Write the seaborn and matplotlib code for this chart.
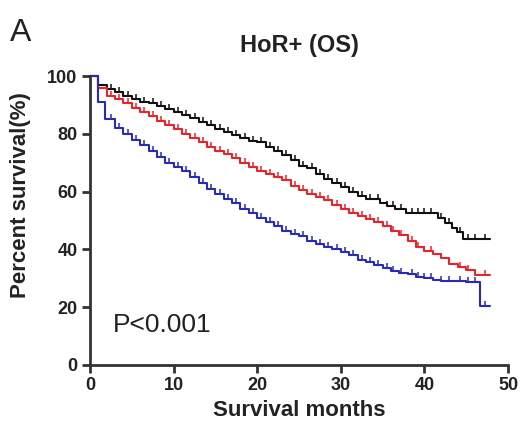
import numpy as np
import pandas as pd
import matplotlib
matplotlib.use("Agg")
import matplotlib.pyplot as plt
import seaborn as sns

# survival curves (months, percent survival)
black_t = [0, 1, 2, 3, 4, 5, 6, 7, 8, 9, 10, 11, 12, 13, 14, 15, 16, 17, 18, 19,
           20, 21, 22, 23, 24, 25, 26, 27, 28, 29, 30, 31, 32, 33, 34.7, 35.5,
           36.5, 37.8, 41.6, 42.5, 43.3, 43.9, 44.6, 47.8]
black_s = [100, 97, 95.5, 94.5, 93, 92, 91, 90.5, 89.5, 88.5, 87.5, 86.5, 85.5,
           84, 83, 81.5, 80.5, 79.5, 78.5, 77.5, 77, 75.5, 74, 72.5, 71, 69, 68,
           66, 64.5, 63, 61.5, 60, 58.5, 57.5, 56, 55, 54, 52.5, 51, 49, 47.5,
           46, 43.5, 43.5]

red_t = [0, 1, 2, 3, 4, 5, 6, 7, 8, 9, 10, 11, 12, 13, 14, 15, 16, 17, 18, 19,
         20, 21, 22, 23, 24, 25, 26, 27, 28, 29, 30, 31, 32, 33, 34, 35, 36, 37,
         38, 39, 40, 41, 42, 43, 44, 45, 46, 47.8]
red_s = [100, 96, 93, 92, 90.5, 89, 87.5, 86, 84.5, 83, 81.5, 80, 78.5, 77,
         75.5, 74, 73, 71.5, 70, 68.5, 67, 66, 65, 64, 62, 60.5, 59, 58, 57,
         55.5, 54, 52.5, 51.5, 50.5, 49.5, 48, 46.5, 45, 43, 41, 39.5, 38.5, 37,
         35, 34, 33, 31, 31]

blue_t = [0, 0.9, 1.8, 3, 4, 5, 6, 7, 8, 9, 10, 11, 12, 13, 14, 15, 16, 17, 18,
          19, 20, 21, 22, 23, 24, 25, 26, 27, 28, 29, 30, 31, 32, 33, 34, 35, 36,
          37, 38, 39, 40, 41, 42, 43, 44, 45, 46, 46.6, 47.8]
blue_s = [100, 91, 85, 82, 80, 78, 76, 74, 72, 70, 68.5, 67, 65, 63, 61, 59,
          57.5, 56, 54, 52.5, 51, 49.5, 48, 46.5, 45.5, 44.5, 43, 42, 41, 40, 39,
          38, 36.5, 35.5, 34.5, 33.5, 32.5, 32, 31.5, 30.5, 30, 29.5, 29.2, 29,
          29, 28.8, 28.7, 20.5, 20.5]

# censoring times (tick marks)
censor_t = [2.5, 3.5, 4.5, 5.5, 6.5, 7.5, 8.5, 9.5, 10.5, 11.5, 12.5, 13.5,
            14.5, 15.5, 16.5, 17.5, 18.5, 19.5, 20.5, 21.5, 22.5, 23.5, 24.5,
            25.5, 26.5, 27.5, 28.5, 29.5, 30.5, 31.5, 32.5, 33.5, 34.5, 35.5,
            36.2, 37.2, 38.5, 39.2, 40, 40.8, 42, 43, 44.2, 45.2, 46, 47.3]

groups = ["black", "red", "blue"]
colors = {"black": "#111111", "red": "#e8232b", "blue": "#2a2ab8"}

curves = pd.concat([
    pd.DataFrame({"month": black_t, "survival": black_s, "group": "black"}),
    pd.DataFrame({"month": red_t, "survival": red_s, "group": "red"}),
    pd.DataFrame({"month": blue_t, "survival": blue_s, "group": "blue"}),
], ignore_index=True)

# censor marks sit on each step curve
rows = []
for g, t, s in [("black", black_t, black_s), ("red", red_t, red_s), ("blue", blue_t, blue_s)]:
    for c in censor_t:
        if c < t[-1]:
            i = np.searchsorted(t, c, side="right") - 1
            rows.append({"month": c, "survival": s[i], "group": g})
censors = pd.DataFrame(rows)

sns.set_style("ticks")
plt.rcParams["font.family"] = ["Liberation Sans", "DejaVu Sans"]

fig = plt.figure(figsize=(5.31, 4.29), dpi=100)
ax = fig.add_axes([0.1695, 0.1492, 0.7872, 0.6736])

sns.lineplot(data=curves, x="month", y="survival", hue="group", hue_order=groups,
             palette=colors, drawstyle="steps-post", estimator=None, sort=False,
             linewidth=1.5, legend=False, ax=ax, clip_on=False)
for g in groups:
    sub = censors[censors["group"] == g]
    ax.plot(sub["month"], sub["survival"], linestyle="none", marker=2,
            markersize=3.5, markeredgewidth=1.1, color=colors[g], clip_on=False)

ax.set_xlim(0, 50)
ax.set_ylim(0, 100)
ax.set_xticks([0, 10, 20, 30, 40, 50])
ax.set_yticks([0, 20, 40, 60, 80, 100])
ax.set_xlabel("")
ax.set_ylabel("")
for side in ["top", "right"]:
    ax.spines[side].set_visible(False)
for side in ["left", "bottom"]:
    ax.spines[side].set_linewidth(2)
    ax.spines[side].set_color("#333333")
ax.tick_params(length=6, width=2, color="#333333", labelsize=13, pad=3,
               labelcolor="#222222")
for lab in ax.get_xticklabels() + ax.get_yticklabels():
    lab.set_fontweight("bold")

ax.text(2.7, 14, "P<0.001", fontsize=19, va="center", ha="left", color="#222222")

fig.text(0.018, 0.922, "A", fontsize=23, va="center", ha="left", color="#222222")
fig.text(0.563, 0.895, "HoR+ (OS)", fontsize=17, fontweight="bold",
         ha="center", va="center", color="#222222")
fig.text(0.563, 0.044, "Survival months", fontsize=16, fontweight="bold",
         ha="center", va="center", color="#222222")
fig.text(0.038, 0.545, "Percent survival(%)", fontsize=16, fontweight="bold",
         rotation=90, ha="center", va="center", color="#222222")

fig.savefig("out.png", dpi=100)
